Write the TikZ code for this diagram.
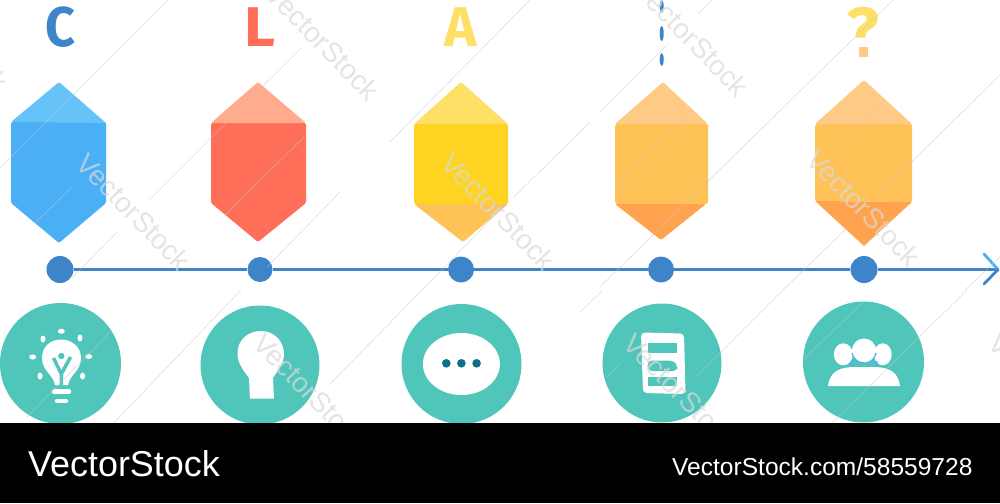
\documentclass[tikz,border=0pt]{standalone}
\usepackage{graphicx}
\usepackage{fontspec}
\setmainfont{Liberation Sans}
\newfontfamily\letterfont{Fira Sans}
\usetikzlibrary{positioning}
\definecolor{axisblue}{HTML}{3D84C9}
\definecolor{skyblue}{HTML}{4BAFF5}
\definecolor{skytop}{HTML}{66C3F7}
\definecolor{coral}{HTML}{FF6E58}
\definecolor{coraltop}{HTML}{FFAB8C}
\definecolor{sun}{HTML}{FFD322}
\definecolor{suntop}{HTML}{FFE066}
\definecolor{amber}{HTML}{FFC257}
\definecolor{ambertop}{HTML}{FFCA85}
\definecolor{amberlow}{HTML}{FFA34F}
\definecolor{teal}{HTML}{50C6BA}
\definecolor{inkdot}{HTML}{0F6E8C}
\tikzstyle{dot} = [circle, fill=axisblue, inner sep=0pt, minimum size=26pt]
\tikzstyle{disc} = [circle, fill=teal, inner sep=0pt, minimum size=119pt, node distance=94pt]
\tikzstyle{letter} = [inner sep=0pt, font=\letterfont\bfseries\fontsize{56}{56}\selectfont, node distance=242pt]
\tikzstyle{axis} = [line width=3.4pt, draw=axisblue]
\tikzstyle{gem} = [rounded corners=1.5pt]
\tikzstyle{hairline} = [draw=gray!45, line width=.6pt, opacity=.6]
\tikzstyle{stamp} = [text=gray!30, opacity=.7, rotate=-46, inner sep=0pt, font=\fontsize{28}{28}\selectfont]
\tikzstyle{barlabel} = [text=white, inner sep=0pt, anchor=west]

\begin{document}
\begin{tikzpicture}[x=1pt, y=-1pt, node distance=200pt]
\useasboundingbox (0,0) rectangle (1000,503);
\clip (0,0) rectangle (1000,503);

% Define the timeline dots
\node (dotc) [dot, minimum size=27pt] at (60,269.5) {};
\node (dotl) [dot, right of=dotc, minimum size=25pt] {};
\node (dota) [dot, right of=dotl, xshift=1pt] {};
\node (dotx) [dot, right of=dota] {};
\node (dotq) [dot, right of=dotx, xshift=3pt, minimum size=27pt] {};
\coordinate (axisend) at (998,269.5);
\coordinate (tipup) at (984,254);
\coordinate (tiplow) at (984,284);

% Draw the axis
\draw [axis] (dotc) -- (dotl);
\draw [axis] (dotl) -- (dota);
\draw [axis] (dota) -- (dotx);
\draw [axis] (dotx) -- (dotq);
\draw [axis] (dotq) -- (axisend);
\draw [line width=2.8pt, line cap=round, draw=skyblue] (tipup) -- (axisend);
\draw [line width=2.8pt, line cap=round, draw=axisblue] (tiplow) -- (axisend);

% Define the letters
\node (letc) [letter, above of=dotc, text=axisblue] {\scalebox{.93}[1]{C}};
\node (letl) [letter, above of=dotl, text=coral] {\scalebox{1.08}[1]{L}};
\node (leta) [letter, above of=dota, text=suntop] {\scalebox{.98}[1]{A}};
\begin{scope}
\clip (830,0) rectangle (900,44);
\node (letq) [letter, text=suntop, font=\letterfont\bfseries\fontsize{68}{68}\selectfont] at (863,32) {?};
\end{scope}
\fill [ambertop] (859,47) rectangle (868,57);
\fill [axisblue] (661.7,6.5) ellipse (2 and 6.5) (661.7,33.5) ellipse (2 and 7.5) (661.7,59.5) ellipse (2 and 6.5);

% Draw the gems
\fill [gem, skyblue] (11,122) -- (106,122) -- (106,203) -- (59,243) -- (11,203) -- cycle;
\fill [gem, skytop] (11,122) -- (59,82) -- (106,123) -- cycle;
\fill [gem, coral] (211,123) -- (306,123) -- (306,203) -- (258,242) -- (211,203) -- cycle;
\fill [gem, coraltop] (211,123) -- (258,82) -- (306,123) -- cycle;
\fill [gem, sun] (414,124) -- (508,124) -- (508,204) -- (414,204) -- cycle;
\fill [gem, suntop] (414,124) -- (461,82) -- (508,124) -- cycle;
\fill [gem, amber] (414,204) -- (508,204) -- (463,242) -- cycle;
\fill [gem, amber] (615,124) -- (708,124) -- (708,204) -- (615,204) -- cycle;
\fill [gem, ambertop] (615,124) -- (663,82) -- (708,124) -- cycle;
\fill [gem, amberlow] (615,204) -- (706,204) -- (661,240) -- cycle;
\fill [gem, amber] (815,124) -- (912,124) -- (912,202) -- (815,201) -- cycle;
\fill [gem, ambertop] (815,124) -- (864,80) -- (912,124) -- cycle;
\fill [amberlow] (815,201) -- (912,202) -- (864,246) -- cycle;

% Define the discs
\node (discc) [disc, below of=dotc, xshift=.5pt, minimum size=121pt] {};
\node (discl) [disc, below of=dotl, yshift=-1.5pt] {};
\node (disca) [disc, below of=dota, xshift=.5pt, yshift=-.5pt, minimum size=120pt] {};
\node (discx) [disc, below of=dotx, xshift=1pt, yshift=.5pt] {};
\node (discq) [disc, below of=dotq, xshift=-.5pt, yshift=1.5pt, minimum size=121pt] {};

% Lamp with rays
\fill [white] (55,385) .. controls (53,374) and (42,371) .. (42,358) .. controls (42,347) and (50,339.5) .. (61,339.5) .. controls (72,339.5) and (81,347) .. (81,358) .. controls (81,371) and (70,374) .. (68,385) -- cycle;
\draw [teal, line width=3.5pt] (53.5,358) -- (61.3,374) -- (70.5,357) (61.3,374) -- (61.3,386);
\fill [teal] (61.3,356) circle [radius=3.2];
\draw [white, line width=4.5pt, line cap=round] (54,391.5) -- (69,391.5) (57,401) -- (66,401);
\fill [white] (61.3,331.3) ellipse (3.5 and 2.5) (43,339) ellipse (2.5 and 3.5) (80,338) ellipse (2.5 and 3.5) (32.7,357) ellipse (3.5 and 2.5) (88.8,356.5) ellipse (3.5 and 2.5) (40,376) ellipse (2.5 and 3.5) (82.6,376) ellipse (2.5 and 3.5);

% Plain lamp
\fill [white] (250,398.5) -- (249,378) .. controls (243,370) and (237.5,363) .. (237.5,353) .. controls (237.5,340) and (248,331) .. (261,331) .. controls (274,331) and (284,341) .. (284,354) .. controls (284,364) and (277,371) .. (273,378) -- (274,398.5) -- cycle;

% Speech bubble
\fill [white] (461.4,364) ellipse (38.5 and 31);
\fill [inkdot] (446.3,363.3) circle [radius=4.3] (461.4,363.3) circle [radius=4.3] (476.6,363.3) circle [radius=4.3];

% Sheet
\fill [white, rounded corners=4pt] (641,332.5) -- (684,333.5) -- (685.5,394) -- (643,393) -- cycle;
\fill [teal] (647.7,342.7) rectangle (677.3,353.3);
\fill [teal, rounded corners=4pt] (647.7,360.7) -- (674,360.7) -- (677.3,366) -- (677.3,371) -- (647.7,371) -- cycle;
\fill [teal] (647.7,376.7) rectangle (677.3,386);

% Group of people
\fill [white] (843.3,354.3) ellipse (9.5 and 11) (882.7,354.3) ellipse (9 and 11);
\draw [skyblue, line width=1.5pt] (851.5,361) -- (851,368) (876.5,361) -- (878,368);
\fill [white, draw=none] (828,386) .. controls (830,372) and (838,368) .. (852,367) -- (876,367) .. controls (890,368) and (898,372) .. (900,386) -- cycle;
\fill [white] (864,350.7) circle [radius=12.2];
\draw [skyblue, line width=1.2pt] (852,353) arc [start angle=190, end angle=350, x radius=12.2, y radius=-12.2];

% Stock marks over everything
\node (stamp1) [stamp] at (134,212) {VectorStock};
\node (stamp2) [stamp] at (323,42) {VectorStock};
\node (stamp3) [stamp] at (499,212) {VectorStock};
\node (stamp4) [stamp] at (692,38) {VectorStock};
\node (stamp5) [stamp] at (864,208) {VectorStock};
\node (stamp6) [stamp] at (311,392) {VectorStock};
\node (stamp7) [stamp] at (681,392) {VectorStock};
\node (stamp8) [stamp] at (1046,392) {VectorStock};
\node (stamp9) [stamp] at (-48,33) {VectorStock};
\draw [hairline] (0,168) -- (168,0) (35,223) -- (73,186) (72,278) -- (118,231) (149,200) -- (302,47) (223,217) -- (306,135) (267,267) -- (340,192) (27,417) -- (112,330) (110,427) -- (241,290) (329,385) -- (422,290) (390,142) -- (530,0) (513,198) -- (590,122) (422,290) -- (507,203) (600,112) -- (667,45) (698,14) -- (712,0) (615,187) -- (693,110) (600,287) -- (893,0) (833,150) -- (883,100) (878,195) -- (1000,75) (783,290) -- (848,227) (965,290) -- (1000,257) (580,312) -- (603,290) (695,378) -- (783,290) (607,377) -- (620,363) (803,360) -- (863,302) (832,423) -- (967,290);

% Footer
\fill [black] (0,423) rectangle (1000,503);
\node (brand) [barlabel, font=\fontsize{35.9}{36}\selectfont] at (28,464) {VectorStock};
\node (ref) [barlabel, font=\fontsize{24.55}{25}\selectfont] at (672,467) {VectorStock.com/58559728};
\end{tikzpicture}
\end{document}
